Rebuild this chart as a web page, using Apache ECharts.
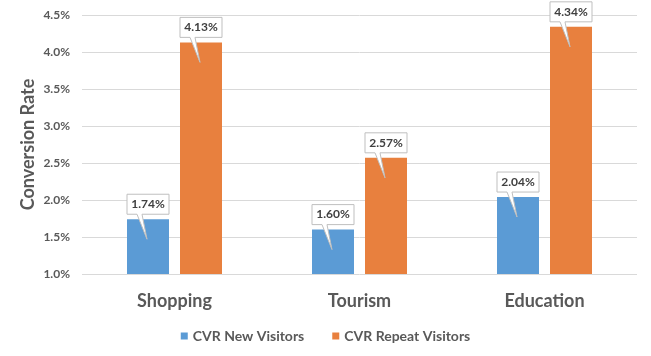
<!DOCTYPE html>
<html><head><meta charset="utf-8">
<script src="https://cdn.jsdelivr.net/npm/echarts@6/dist/echarts.min.js"></script>
<style>html,body{margin:0;padding:0;background:#fff}#c{width:651px;height:356px}</style>
</head><body><div id="c"></div>
<script>
var categories = ['Shopping', 'Tourism', 'Education'];
var newVisitors = [1.74, 1.60, 2.04];
var repeatVisitors = [4.13, 2.57, 4.34];
var seriesNames = ['CVR New Visitors', 'CVR Repeat Visitors'];
var colors = ['#5B9BD5', '#E8803E'];
var FONT = 'Lato';
var BAR_W = 42, BAR_GAP = 11;

function callout(offsetSign) {
  return function (params, api) {
    var c = api.coord([api.value(0), api.value(1)]);
    var cx = c[0] + offsetSign * (BAR_W + BAR_GAP) / 2;
    var top = c[1];
    var L = cx - BAR_W / 2, R = cx + BAR_W / 2;
    var B = top - 5, T = B - 20;
    return {
      type: 'group',
      children: [
        { type: 'polygon', shape: { points: [[L, T], [R, T], [R, B], [L + 15, B], [L + 20, B + 25], [L + 10, B], [L, B]] },
          style: { fill: '#fff', stroke: '#BFBFBF', lineWidth: 1 } },
        { type: 'text', x: cx, y: (T + B) / 2,
          style: { text: api.value(1).toFixed(2) + '%', fill: '#404040', font: 'bold 12px ' + FONT, align: 'center', verticalAlign: 'middle' } }
      ]
    };
  };
}

var chart = echarts.init(document.getElementById('c'));
chart.setOption({
  animation: false,
  color: colors,
  grid: { left: 82, right: 14, top: 15, bottom: 82 },
  legend: {
    data: seriesNames, top: 324, left: 'center', icon: 'rect', itemWidth: 7, itemHeight: 7, itemGap: 28,
    textStyle: { fontFamily: FONT, fontWeight: 'bold', fontSize: 14, color: '#595959' }
  },
  xAxis: {
    type: 'category', data: categories,
    axisLine: { show: false }, axisTick: { show: false },
    axisLabel: { margin: 18, fontFamily: FONT, fontWeight: 'bold', fontSize: 18, color: '#595959' }
  },
  yAxis: {
    type: 'value', min: 1.0, max: 4.5, interval: 0.5,
    name: 'Conversion Rate', nameLocation: 'middle', nameGap: 45, nameMoveOverlap: false,
    nameTextStyle: { fontFamily: FONT, fontWeight: 'bold', fontSize: 18, color: '#595959' },
    axisLine: { show: false }, axisTick: { show: false },
    axisLabel: { margin: 12, fontFamily: FONT, fontWeight: 'bold', fontSize: 12, color: '#595959',
      formatter: function (v) { return v.toFixed(1) + '%'; } },
    splitLine: { lineStyle: { color: '#D9D9D9', width: 1 } }
  },
  series: [
    { name: seriesNames[0], type: 'bar', data: newVisitors, barWidth: BAR_W, barGap: (BAR_GAP / BAR_W * 100) + '%' },
    { name: seriesNames[1], type: 'bar', data: repeatVisitors, barWidth: BAR_W },
    { type: 'custom', z: 10, renderItem: callout(-1), data: newVisitors.map(function (v, i) { return [i, v]; }), tooltip: { show: false } },
    { type: 'custom', z: 10, renderItem: callout(1), data: repeatVisitors.map(function (v, i) { return [i, v]; }), tooltip: { show: false } }
  ]
});
</script></body></html>
